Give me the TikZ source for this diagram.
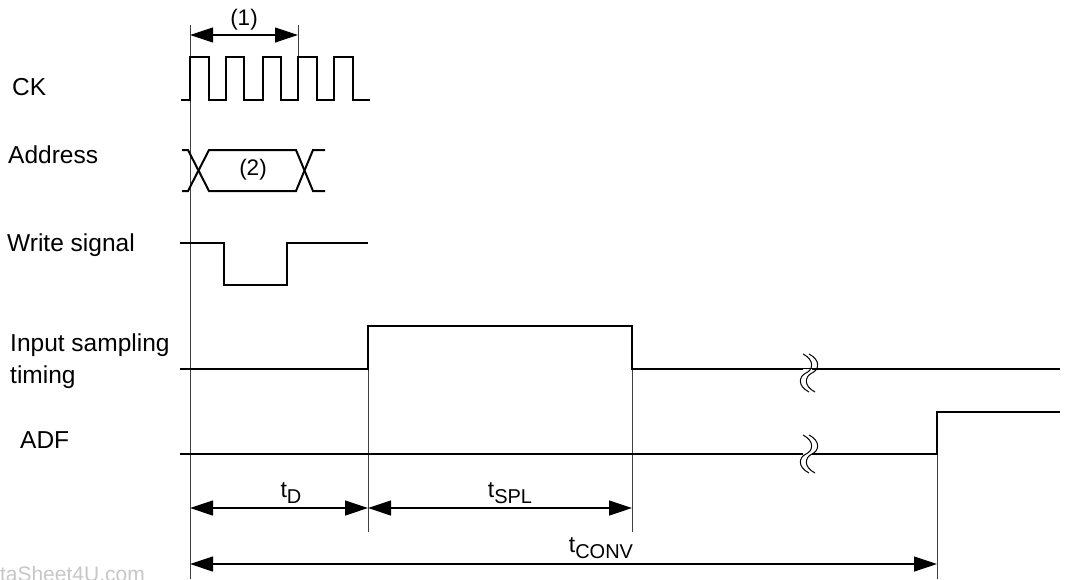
\documentclass[tikz,border=0pt]{standalone}
\usepackage{fontspec}
\setmainfont{Liberation Sans}
\usetikzlibrary{arrows.meta}
\newcommand\tlab[1]{t\raisebox{-6pt}{\fontsize{20}{22}\selectfont #1}}
\begin{document}
\begin{tikzpicture}[x=1pt,y=-1pt,
  sig/.style={line width=2pt, line join=miter},
  guide/.style={line width=1pt, black!75},
  dim/.style={line width=1.2pt, {Triangle[length=23pt,width=15pt]}-{Triangle[length=23pt,width=15pt]}},
  lbl/.style={anchor=base west, font=\fontsize{24.5}{30}\selectfont, inner sep=0pt},
  tl/.style={anchor=base, font=\fontsize{23}{26}\selectfont, inner sep=0pt},
  par/.style={font=\fontsize{22.5}{26}\selectfont, inner sep=0pt},
  brk/.style={line width=1pt}]
\clip (0,0) rectangle (1066,579);
\useasboundingbox (0,0) rectangle (1066,579);

% watermark
\node[anchor=base west, font=\fontsize{21}{24}\selectfont, text=black!22, inner sep=0pt] (wm) at (-27,581) {DataSheet4U.com};

% left labels
\node[lbl] (ck) at (12,95) {CK};
\node[lbl] (addr) at (8,163) {Address};
\node[lbl] (wr) at (7,251) {Write signal};
\node[lbl] (ist1) at (10,351) {Input sampling};
\node[lbl] (ist2) at (10,383) {timing};
\node[lbl] (adf) at (20,448) {ADF};

% guide coordinates
\coordinate (g0t) at (190,25);  \coordinate (g0b) at (190,579);
\coordinate (g1t) at (298,25);  \coordinate (g1b) at (298,100);
\coordinate (g2t) at (368,326); \coordinate (g2b) at (368,532);
\coordinate (g3t) at (632,326); \coordinate (g3b) at (632,532);
\coordinate (g4t) at (937,412); \coordinate (g4b) at (937,579);
\draw[guide] (g0t) -- (g0b);
\draw[guide] (g1t) -- (g1b);
\draw[guide] (g2t) -- (g2b);
\draw[guide] (g3t) -- (g3b);
\draw[guide] (g4t) -- (g4b);

% CK
\draw[sig] (181,100) -- (190,100) -- (190,57) -- (209,57) -- (209,100) -- (226,100) -- (226,57) -- (244,57) -- (244,100) -- (263,100) -- (263,57) -- (281,57) -- (281,100) -- (298,100) -- (298,57) -- (317,57) -- (317,100) -- (334,100) -- (334,57) -- (353,57) -- (353,100) -- (370,100);

% Address bus
\draw[sig] (182,150) -- (188,150) -- (209,191) -- (296,191) -- (313,150) -- (325,150);
\draw[sig] (182,191) -- (188,191) -- (209,150) -- (296,150) -- (313,191) -- (325,191);
\node[par] (n2) at (253,170) {(2)};

% Write signal
\draw[sig] (180,243) -- (224,243) -- (224,285) -- (287,285) -- (287,243) -- (368,243);

% Input sampling timing
\draw[sig] (180,369) -- (368,369) -- (368,326) -- (632,326) -- (632,369) -- (1060,369);

% ADF
\draw[sig] (180,454) -- (937,454) -- (937,412) -- (1060,412);

% break marks
\foreach \cx/\cy in {806/373, 806/454} {
  \fill[white] (\cx-3,\cy-4) rectangle (\cx+6,\cy+4);
  \foreach \o in {0,6}
    \draw[brk] (\cx+\o-3,\cy-19) .. controls (\cx+\o+9,\cy-13) and (\cx+\o+7,\cy-3) .. (\cx+\o,\cy) .. controls (\cx+\o-7,\cy+3) and (\cx+\o-9,\cy+13) .. (\cx+\o+3,\cy+19);
}

% (1) dimension
\coordinate (a1) at (190,35); \coordinate (a2) at (298,35);
\draw[dim] (a1) -- (a2);
\node[par] (n1) at (244,20) {(1)};

% timing dimensions
\coordinate (tdA) at (190,508); \coordinate (tdB) at (368,508); \coordinate (tsB) at (632,508);
\coordinate (tcA) at (190,564); \coordinate (tcB) at (937,564);
\draw[dim] (tdA) -- (tdB);
\draw[dim] (tdB) -- (tsB);
\draw[dim] (tcA) -- (tcB);
\node[tl] (ltd) at (291,497) {\tlab{D}};
\node[tl] (lts) at (510,497) {\tlab{SPL}};
\node[tl] (ltc) at (601,552) {\tlab{CONV}};
\end{tikzpicture}
\end{document}
